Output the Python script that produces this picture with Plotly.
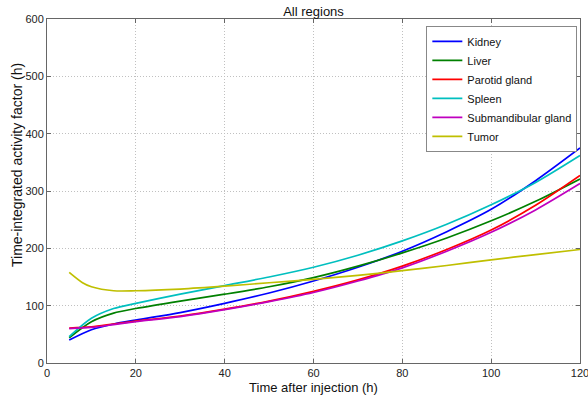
import plotly.graph_objects as go

t = [5, 10, 15, 20, 30, 40, 50, 60, 70, 80, 90, 100, 110, 120]
t_tumor = [5, 8, 10, 15, 20, 30, 40, 50, 60, 70, 80, 90, 100, 110, 120]

kidney = [40, 58, 68, 75, 88, 104, 122, 143, 167, 195, 229, 268, 318, 375]
liver = [44, 72, 87, 95, 108, 120, 133, 149, 169, 192, 218, 248, 282, 321]
parotid = [61, 63, 68, 73, 82, 94, 108, 125, 145, 169, 198, 232, 275, 327]
spleen = [46, 78, 95, 104, 120, 135, 150, 167, 188, 213, 242, 276, 315, 362]
submand = [60, 62, 67, 72, 81, 93, 107, 123, 143, 166, 195, 228, 267, 313]
tumor = [158, 140, 133, 126, 126, 129, 134, 140, 146, 153, 161, 170, 180, 189, 198]

x_ticks = [0, 20, 40, 60, 80, 100, 120]
y_ticks = [0, 100, 200, 300, 400, 500, 600]

series = [
    ("Kidney", t, kidney, "#0000ff"),
    ("Liver", t, liver, "#008000"),
    ("Parotid gland", t, parotid, "#ff0000"),
    ("Spleen", t, spleen, "#00bfbf"),
    ("Submandibular gland", t, submand, "#bf00bf"),
    ("Tumor", t_tumor, tumor, "#bfbf00"),
]

fig = go.Figure()
for name, x, y, c in series:
    fig.add_trace(go.Scatter(x=x, y=y, name=name, mode="lines",
                             line=dict(color=c, width=1.7, shape="spline", smoothing=0.8)))

axis_common = dict(showline=True, linecolor="#666666", linewidth=1, mirror="ticks",
                   showgrid=True, gridcolor="#c0c0c0", griddash="1px,2px", gridwidth=1,
                   ticks="inside", ticklen=4, tickcolor="#666666", zeroline=False,
                   ticklabeloverflow="allow", automargin=False,
                   tickfont=dict(size=11, color="#222222"))

fig.update_layout(
    width=588, height=398,
    margin=dict(l=47, r=8, t=19, b=35, autoexpand=False),
    paper_bgcolor="white", plot_bgcolor="white",
    font=dict(family="Liberation Sans, Arial", color="#111111"),
    title=dict(text="All regions", x=0.5, xref="paper", xanchor="center",
               y=1 - 11 / 398, yref="container", yanchor="middle",
               font=dict(size=13)),
    xaxis=dict(range=[0, 120.0001], tickmode="array", tickvals=x_ticks,
               title=dict(text="Time after injection (h)", font=dict(size=13), standoff=4),
               **axis_common),
    yaxis=dict(range=[0, 600.0001], tickmode="array", tickvals=y_ticks, **axis_common),
    legend=dict(x=0.995, y=0.98, xanchor="right", yanchor="top",
                bgcolor="white", bordercolor="#888888", borderwidth=1,
                font=dict(size=11), tracegroupgap=0, itemwidth=30),
    showlegend=True,
    annotations=[dict(text="Time-integrated activity factor (h)", textangle=-90,
                      xref="paper", yref="paper", x=-30 / 533, y=(363 - 165) / 344,
                      xanchor="center", yanchor="middle", showarrow=False,
                      font=dict(size=14, color="#111111"))],
)

fig.write_html("out.html", config={"displayModeBar": False},
               post_script="document.body.style.margin='0';")
